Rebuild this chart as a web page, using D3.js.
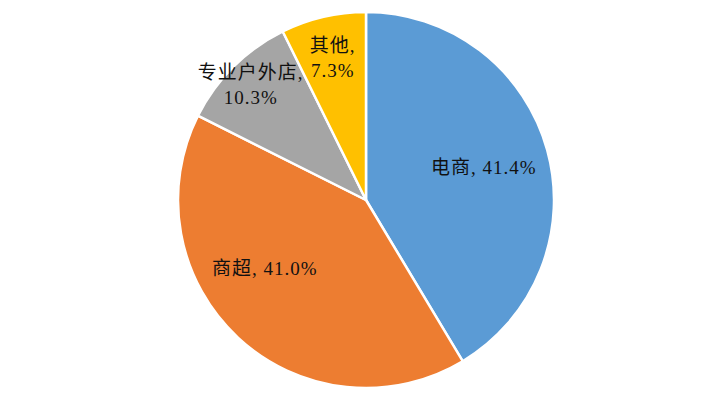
<!DOCTYPE html>
<html>
<head>
<meta charset="utf-8">
<script src="https://cdn.jsdelivr.net/npm/d3@7"></script>
<style>
  body { margin: 0; background: #fff; }
  text { font-family: "Liberation Serif", "Noto Sans CJK SC", serif; font-size: 19px; letter-spacing: 1px; fill: #111; }
</style>
</head>
<body>
<svg id="chart" width="728" height="399"></svg>
<script>
// slice names and shares (%), clockwise from 12 o'clock
const names = ["电商", "商超", "专业户外店", "其他"];
const shares = [41.4, 41.0, 10.3, 7.3];
const colors = ["#5B9BD5", "#ED7D31", "#A5A5A5", "#FFC000"];

const svg = d3.select("#chart"),
    width = +svg.attr("width"),
    height = +svg.attr("height");

const cx = 366, cy = 200, r = 188;

const pie = d3.pie().sort(null).value(d => d.v);
const arcs = pie(names.map((n, i) => ({ name: n, v: shares[i], color: colors[i] })));

const arc = d3.arc().innerRadius(0).outerRadius(r);

const g = svg.append("g").attr("transform", `translate(${cx},${cy})`);

g.selectAll("path")
    .data(arcs)
    .enter().append("path")
    .attr("d", arc)
    .attr("fill", d => d.data.color)
    .attr("stroke", "#fff")
    .attr("stroke-width", 2.5);

// big slices: one-line label inside; small ones: two lines near the rim
function labelPos(d) {
    const big = (d.endAngle - d.startAngle) > 1;
    let a = (d.startAngle + d.endAngle) / 2;
    if (big && d.index === 1) a += 0.23;
    const rr = big ? 0.65 * r : (d.index === 2 ? 0.87 * r : 0.78 * r);
    return [Math.sin(a) * rr, -Math.cos(a) * rr, big];
}

const labels = g.selectAll("text.lbl")
    .data(arcs)
    .enter().append("text")
    .attr("class", "lbl")
    .attr("text-anchor", "middle")
    .each(function(d) {
        const [x, y, big] = labelPos(d);
        const t = d3.select(this);
        const pct = d3.format(".1f")(d.data.v) + "%";
        if (big) {
            t.append("tspan").attr("x", x).attr("y", y + 7).text(d.data.name + ", " + pct);
        } else {
            t.append("tspan").attr("x", x).attr("y", y - 5).text(d.data.name + ",");
            t.append("tspan").attr("x", x).attr("y", y + 20).text(pct);
        }
    });
</script>
</body>
</html>
